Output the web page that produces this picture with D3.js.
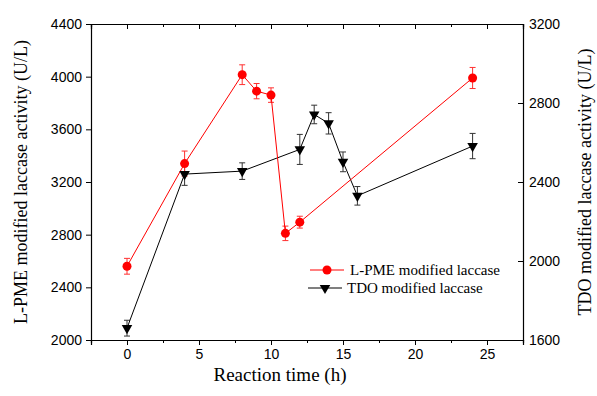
<!DOCTYPE html>
<html>
<head>
<meta charset="utf-8">
<script src="https://cdn.jsdelivr.net/npm/d3@7"></script>
<style>
  body { margin: 0; background: #fff; }
  svg { display: block; }
</style>
</head>
<body>
<div class="container"></div>
<script>
// data
var hours = [0, 4, 8, 9, 10, 11, 12, 24];
var lpme = [2560, 3340, 4015, 3890, 3860, 2810, 2895, 3990];
var lpmeErr = [60, 95, 75, 58, 55, 55, 45, 80];

var tdoHours = [0, 4, 8, 12, 13, 14, 15, 16, 24];
var tdo = [1660, 2440, 2455, 2565, 2742, 2697, 2502, 2330, 2582];
var tdoErr = [40, 57, 42, 76, 47, 54, 50, 47, 64];

var xTicks = [0, 5, 10, 15, 20, 25];
var leftTicks = [2000, 2400, 2800, 3200, 3600, 4000, 4400];
var rightTicks = [1600, 2000, 2400, 2800, 3200];

const WIDTH = 597;
const HEIGHT = 396;
const LEFT = 91, RIGHT = 523, TOP = 24, BOTTOM = 340;

var translate = function(x, y){
  return "translate(" + x + "," + y + ")";
};

var xScale = d3.scaleLinear().domain([-2.5, 27.5]).range([LEFT, RIGHT]);
var yLeft = d3.scaleLinear().domain([2000, 4400]).range([BOTTOM, TOP]);
var yRight = d3.scaleLinear().domain([1600, 3200]).range([BOTTOM, TOP]);

var svg = d3.select('.container').append('svg')
  .attr('width', WIDTH)
  .attr('height', HEIGHT);

var minorX = d3.range(-2.5, 27.6, 2.5);

var styleAxis = function(g){
  g.selectAll('path').attr('stroke', '#000').attr('stroke-width', 1.2);
  g.selectAll('line').attr('stroke', '#000').attr('stroke-width', 1);
  g.selectAll('text').attr('font-family', 'Liberation Sans, Arial, sans-serif')
    .attr('font-size', 14).attr('fill', '#000');
};

// bottom axis
svg.append('g')
  .attr('transform', translate(0, BOTTOM))
  .call(d3.axisBottom(xScale).tickValues(xTicks).tickFormat(d3.format('d')).tickSizeOuter(0).tickSize(5).tickPadding(4))
  .call(styleAxis);
svg.append('g')
  .attr('transform', translate(0, BOTTOM))
  .call(d3.axisBottom(xScale).tickValues(minorX.filter(function(d){ return xTicks.indexOf(d) < 0; })).tickFormat('').tickSizeOuter(0).tickSize(3))
  .call(styleAxis);

// top axis, ticks pointing in
svg.append('g')
  .attr('transform', translate(0, TOP))
  .call(d3.axisTop(xScale).tickValues(xTicks).tickFormat('').tickSizeOuter(0).tickSize(-5))
  .call(styleAxis);
svg.append('g')
  .attr('transform', translate(0, TOP))
  .call(d3.axisTop(xScale).tickValues(minorX.filter(function(d){ return xTicks.indexOf(d) < 0; })).tickFormat('').tickSizeOuter(0).tickSize(-3))
  .call(styleAxis);

// left axis
svg.append('g')
  .attr('transform', translate(LEFT, 0))
  .call(d3.axisLeft(yLeft).tickValues(leftTicks).tickFormat(d3.format('d')).tickSizeOuter(0).tickSize(5).tickPadding(4))
  .call(styleAxis);

// right axis, ticks pointing in
var rAxis = svg.append('g')
  .attr('transform', translate(RIGHT, 0))
  .call(d3.axisRight(yRight).tickValues(rightTicks).tickFormat(d3.format('d')).tickSizeOuter(0).tickSize(-5).tickPadding(6))
  .call(styleAxis);
rAxis.selectAll('text').attr('x', 6);

// axis titles
svg.append('text')
  .attr('x', 280).attr('y', 381)
  .attr('text-anchor', 'middle')
  .attr('font-family', 'Liberation Serif, Times New Roman, serif')
  .attr('font-size', 19)
  .text('Reaction time (h)');

svg.append('text')
  .attr('transform', translate(27, (TOP + BOTTOM) / 2) + ' rotate(-90)')
  .attr('text-anchor', 'middle')
  .attr('font-family', 'Liberation Serif, Times New Roman, serif')
  .attr('font-size', 18)
  .text('L-PME modified laccase activity (U/L)');

svg.append('text')
  .attr('transform', translate(591, (TOP + BOTTOM) / 2) + ' rotate(-90)')
  .attr('text-anchor', 'middle')
  .attr('font-family', 'Liberation Serif, Times New Roman, serif')
  .attr('font-size', 18)
  .text('TDO modified laccase activity (U/L)');

// series
var lpmeData = hours.map(function(h, i){ return { x: h, y: lpme[i], e: lpmeErr[i] }; });
var tdoData = tdoHours.map(function(h, i){ return { x: h, y: tdo[i], e: tdoErr[i] }; });

var triangle = d3.symbol().type(d3.symbolTriangle).size(48);

var drawErr = function(data, yScale, color){
  var g = svg.append('g').attr('stroke', color).attr('stroke-width', 1);
  data.forEach(function(d){
    var x = xScale(d.x), y1 = yScale(d.y - d.e), y2 = yScale(d.y + d.e);
    g.append('line').attr('x1', x).attr('x2', x).attr('y1', y1).attr('y2', y2);
    g.append('line').attr('x1', x - 3).attr('x2', x + 3).attr('y1', y1).attr('y2', y1);
    g.append('line').attr('x1', x - 3).attr('x2', x + 3).attr('y1', y2).attr('y2', y2);
  });
};

drawErr(tdoData, yRight, '#333');
drawErr(lpmeData, yLeft, '#ff3030');

svg.append('path')
  .datum(tdoData)
  .attr('fill', 'none').attr('stroke', '#000').attr('stroke-width', 1)
  .attr('d', d3.line().x(function(d){ return xScale(d.x); }).y(function(d){ return yRight(d.y); }));

svg.append('path')
  .datum(lpmeData)
  .attr('fill', 'none').attr('stroke', '#ff0000').attr('stroke-width', 1)
  .attr('d', d3.line().x(function(d){ return xScale(d.x); }).y(function(d){ return yLeft(d.y); }));

svg.selectAll('.tri').data(tdoData).enter().append('path')
  .attr('class', 'tri')
  .attr('d', triangle)
  .attr('fill', '#000')
  .attr('transform', function(d){ return translate(xScale(d.x), yRight(d.y)) + ' rotate(180)'; });

svg.selectAll('.dot').data(lpmeData).enter().append('circle')
  .attr('class', 'dot')
  .attr('cx', function(d){ return xScale(d.x); })
  .attr('cy', function(d){ return yLeft(d.y); })
  .attr('r', 4.5)
  .attr('fill', '#ff0000');

// legend
var legend = svg.append('g');
legend.append('line').attr('x1', 310).attr('x2', 344).attr('y1', 270).attr('y2', 270)
  .attr('stroke', '#ff0000').attr('stroke-width', 1);
legend.append('circle').attr('cx', 327).attr('cy', 270).attr('r', 4.5).attr('fill', '#ff0000');
legend.append('text').attr('x', 350).attr('y', 275)
  .attr('font-family', 'Liberation Serif, Times New Roman, serif').attr('font-size', 15)
  .text('L-PME modified laccase');

legend.append('line').attr('x1', 308).attr('x2', 342).attr('y1', 288).attr('y2', 288)
  .attr('stroke', '#000').attr('stroke-width', 1);
legend.append('path').attr('d', triangle).attr('fill', '#000')
  .attr('transform', translate(325, 288) + ' rotate(180)');
legend.append('text').attr('x', 347).attr('y', 293)
  .attr('font-family', 'Liberation Serif, Times New Roman, serif').attr('font-size', 15)
  .text('TDO modified laccase');
</script>
</body>
</html>
